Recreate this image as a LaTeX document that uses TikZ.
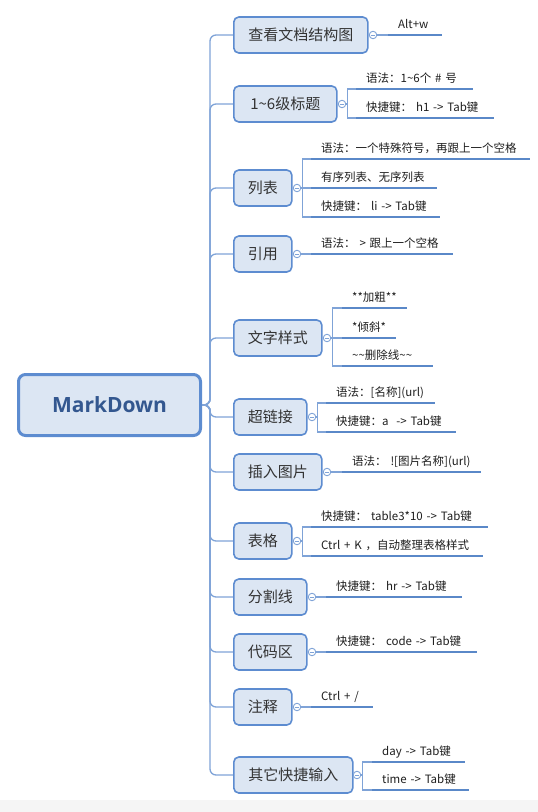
\documentclass[tikz,border=0pt]{standalone}
\usepackage{fontspec}
\setmainfont{Noto Sans CJK SC}
\newfontfamily\rootfont{Open Sans}
\definecolor{boxfill}{HTML}{DCE6F3}
\definecolor{boxline}{HTML}{5D8CD0}
\definecolor{conncol}{HTML}{7FA3D7}
\definecolor{ulcol}{HTML}{5A88C8}
\definecolor{roottext}{HTML}{33578F}
\definecolor{topictext}{HTML}{333333}
\definecolor{kidtext}{HTML}{1E1E1E}
\tikzset{
  rootbox/.style={draw=boxline, line width=3pt, fill=boxfill, rounded corners=7pt,
    minimum width=182pt, minimum height=61pt, inner sep=0pt,
    font=\rootfont\bfseries\fontsize{21}{24}\selectfont, text=roottext},
  topic/.style={draw=boxline, line width=1.6pt, fill=boxfill, rounded corners=5pt,
    minimum height=36pt, inner sep=0pt, anchor=west,
    font=\fontsize{15}{18}\selectfont, text=topictext},
  fold/.style={circle, draw=conncol, line width=0.9pt, fill=white, minimum size=7.5pt, inner sep=0pt,
    path picture={\draw[conncol, line width=0.8pt] ([xshift=1.6pt]path picture bounding box.west) -- ([xshift=-1.6pt]path picture bounding box.east);}},
  kid/.style={anchor=south west, inner xsep=10pt, inner ysep=3.5pt, text height=9pt, text depth=2.5pt,
    align=left, font=\fontsize{11.5}{13}\selectfont, text=kidtext},
  uline/.style={draw=ulcol, line width=2.4pt},
  conn/.style={draw=conncol, line width=1.2pt},
  trunk/.style={draw=conncol, line width=1.3pt, rounded corners=6pt},
}
\newcommand\kid[5]{%
  \pgfmathsetmacro\kidw{#4-#2-20}%
  \node[kid, text width=\kidw pt] (#1) at (#2,#3) {\mbox{#5}};%
  \draw[uline] (#1.south west) -- (#1.south east);}
\begin{document}
\begin{tikzpicture}[x=1pt, y=-1pt]
\useasboundingbox (0,0) rectangle (538,812);
\fill[black!4] (0,800) rectangle (538,812);
% root
\node[rootbox] (root) at (109.5,405) {MarkDown};
\coordinate (tk) at (210,405);
% topics
\node[topic, minimum width=134pt] (A) at (233,35) {查看文档结构图};
\node[topic, minimum width=103pt] (B) at (233,104) {1\char"7E 6级标题};
\node[topic, minimum width=58pt] (C) at (233,188) {列表};
\node[topic, minimum width=58pt] (D) at (233,254) {引用};
\node[topic, minimum width=88pt] (E) at (233,338) {文字样式};
\node[topic, minimum width=73pt] (F) at (233,417) {超链接};
\node[topic, minimum width=88pt] (G) at (233,472) {插入图片};
\node[topic, minimum width=58pt] (H) at (233,541) {表格};
\node[topic, minimum width=73pt] (I) at (233,597) {分割线};
\node[topic, minimum width=73pt] (J) at (233,652) {代码区};
\node[topic, minimum width=58pt] (K) at (233,707) {注释};
\node[topic, minimum width=119pt] (L) at (233,775) {其它快捷输入};
% trunk connectors
\foreach \t in {A,B,C,D,E,F,G,H,I,J,K,L}
  \draw[trunk] (root.east) -- (tk) |- (\t.west);
% fold circles
\node[fold] (Ac) at (373,35) {};
\node[fold] (Bc) at (342,104) {};
\node[fold] (Cc) at (297,188) {};
\node[fold] (Dc) at (297,254) {};
\node[fold] (Ec) at (327,338) {};
\node[fold] (Fc) at (312,417) {};
\node[fold] (Gc) at (327,472) {};
\node[fold] (Hc) at (297,541) {};
\node[fold] (Ic) at (312,597) {};
\node[fold] (Jc) at (312,652) {};
\node[fold] (Kc) at (297,707) {};
\node[fold] (Lc) at (357,775) {};
% children
\kid{A1}{388}{35}{442}{Alt+w}
\kid{B1}{356}{89}{473}{语法：1\char"7E 6个 \# 号}
\kid{B2}{356}{118}{494}{快捷键： h1 -> Tab键}
\kid{C1}{311}{159}{530}{语法：一个特殊符号，再跟上一个空格}
\kid{C2}{311}{188}{437}{有序列表、无序列表}
\kid{C3}{311}{217}{440}{快捷键： li -> Tab键}
\kid{D1}{311}{254}{453}{语法： > 跟上一个空格}
\kid{E1}{342}{308}{407}{**加粗**}
\kid{E2}{342}{338}{396}{*倾斜*}
\kid{E3}{342}{366}{433}{\char"7E\char"7E 删除线\char"7E\char"7E}
\kid{F1}{326}{403}{435}{语法：[名称](url)}
\kid{F2}{326}{432}{456}{快捷键：a~ -> Tab键}
\kid{G1}{342}{472}{481}{语法： ![图片名称](url)}
\kid{H1}{311}{527}{488}{快捷键： table3*10 -> Tab键}
\kid{H2}{311}{556}{483}{Ctrl + K ，自动整理表格样式}
\kid{I1}{326}{597}{462}{快捷键： hr -> Tab键}
\kid{J1}{326}{652}{477}{快捷键： code -> Tab键}
\kid{K1}{311}{707}{373}{Ctrl + /}
\kid{L1}{372}{762}{465}{day -> Tab键}
\kid{L2}{372}{790}{469}{time -> Tab键}
% fold to children
\draw[conn] (Ac.east) -- (A1.south west);
\draw[conn] (Dc.east) -- (D1.south west);
\draw[conn] (Gc.east) -- (G1.south west);
\draw[conn] (Ic.east) -- (I1.south west);
\draw[conn] (Jc.east) -- (J1.south west);
\draw[conn] (Kc.east) -- (K1.south west);
\foreach \c/\k in {B/B1,B/B2,C/C1,C/C2,C/C3,E/E1,E/E2,E/E3,F/F1,F/F2,H/H1,H/H2,L/L1,L/L2}
  \draw[conn] (\c c.east) -- ++(1.5,0) |- (\k.south west);
\end{tikzpicture}
\end{document}
